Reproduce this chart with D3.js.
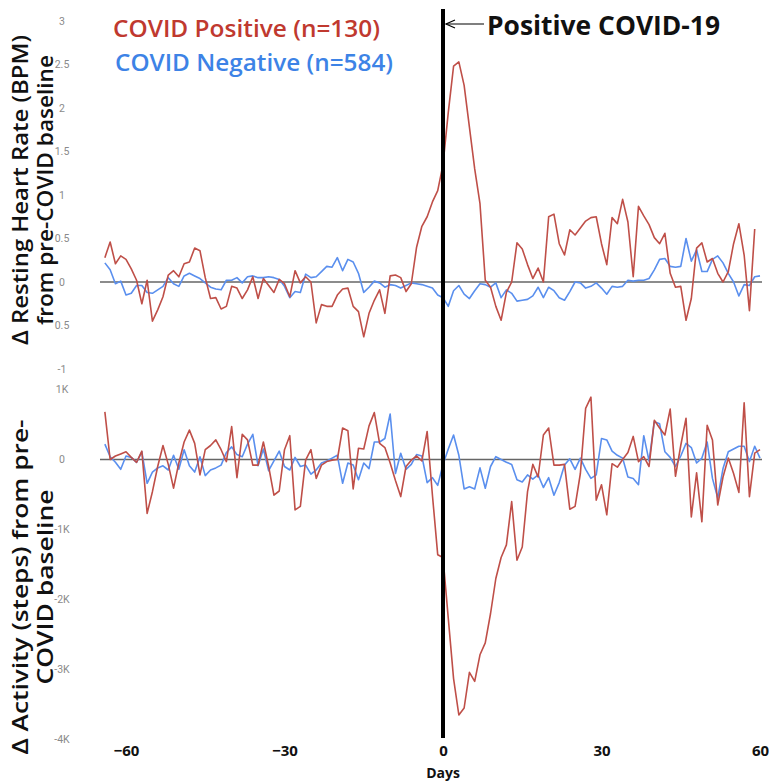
<!DOCTYPE html>
<html><head><meta charset="utf-8">
<script src="https://cdn.jsdelivr.net/npm/d3@7"></script>
<style>body{margin:0;background:#fff;} svg{display:block;}</style>
</head><body>
<svg id="chart" width="769" height="783"></svg>
<script>
// ---- data ----
const days = d3.range(-64, 61);               // day relative to positive test
const xTicks = [-60, -30, 0, 30, 60];
const hrTicks = [3, 2.5, 2, 1.5, 1, 0.5, 0, -0.5, -1];
const stepTicks = [1, 0, -1, -2, -3, -4];      // thousands of steps
const legendLabels = ["COVID Positive (n=130)", "COVID Negative (n=584)"];
const annotationLabel = "Positive COVID-19";
const hrTitle = ["Δ Resting Heart Rate (BPM)", "from pre-COVID baseline"];
const stepsTitle = ["Δ Activity (steps)  from pre-", "COVID baseline"];
const xTitle = "Days";

// Δ resting heart rate (BPM), COVID positive (days -64..59)
const hrPositive = [
  0.28, 0.46, 0.21, 0.30, 0.26, 0.15, 0.02, -0.25, 0.02, -0.45,
  -0.32, -0.17, 0.08, 0.13, 0.06, 0.21, 0.23, 0.39, 0.36, 0.05,
  -0.19, -0.18, -0.31, -0.28, -0.05, -0.07, -0.19, -0.09, 0.06, -0.19,
  0.04, -0.04, -0.12, 0.03, -0.02, -0.17, 0.13, -0.01, 0.06, 0.00,
  -0.47, -0.26, -0.28, -0.28, -0.15, -0.08, -0.07, -0.28, -0.34, -0.63,
  -0.36, -0.21, -0.09, -0.36, 0.07, 0.08, 0.05, -0.11, -0.02, 0.40,
  0.64, 0.75, 0.92, 1.05, 1.35, 1.95, 2.48, 2.53, 2.26, 1.78,
  1.30, 0.90, 0.02, -0.06, -0.28, -0.44, -0.12, 0.00, 0.45, 0.38,
  0.20, 0.04, 0.16, 0.00, 0.75, 0.78, 0.44, 0.31, 0.60, 0.54,
  0.62, 0.70, 0.74, 0.75, 0.44, 0.20, 0.74, 0.67, 0.95, 0.69,
  0.06, 0.87, 0.76, 0.66, 0.51, 0.44, 0.56, 0.10, -0.06, -0.05,
  -0.44, -0.19, 0.39, 0.45, 0.23, 0.27, 0.10, 0.00, 0.12, 0.44,
  0.67, 0.31, -0.33, 0.61
];
// Δ resting heart rate (BPM), COVID negative (days -64..60)
const hrNegative = [
  0.22, 0.14, -0.02, 0.01, -0.15, -0.13, -0.04, -0.04, -0.12, -0.13,
  -0.09, -0.05, 0.05, -0.02, -0.05, 0.07, 0.10, 0.07, 0.04, -0.01,
  -0.06, -0.08, -0.09, 0.02, 0.02, 0.05, -0.01, 0.06, 0.07, 0.05,
  0.05, 0.06, 0.05, 0.03, -0.05, -0.18, -0.11, -0.12, 0.09, 0.05,
  0.06, 0.12, 0.18, 0.17, 0.28, 0.13, 0.26, 0.23, 0.10, -0.12,
  -0.06, 0.01, -0.01, -0.06, -0.03, -0.04, -0.07, -0.04, -0.01, -0.02,
  -0.03, -0.05, -0.07, -0.15, -0.18, -0.28, -0.10, -0.04, -0.14, -0.19,
  -0.10, -0.02, -0.03, -0.06, -0.01, -0.18, -0.09, -0.13, -0.22, -0.21,
  -0.20, -0.16, -0.06, -0.18, -0.06, -0.10, -0.18, -0.21, -0.11, 0.00,
  -0.01, -0.07, -0.05, -0.01, -0.07, -0.14, -0.05, -0.06, -0.05, 0.02,
  0.01, 0.02, 0.02, 0.04, 0.14, 0.26, 0.27, 0.18, 0.17, 0.18,
  0.50, 0.24, 0.37, 0.12, 0.12, 0.26, 0.30, 0.22, 0.10, 0.00,
  -0.16, -0.03, -0.04, 0.06, 0.07
];
// Δ activity (thousand steps), COVID positive (days -64..60)
const stepsPositive = [
  0.68, 0.00, 0.05, 0.08, 0.11, 0.03, -0.04, 0.12, -0.77, -0.46,
  -0.10, 0.20, -0.07, -0.41, -0.05, 0.25, 0.42, 0.23, -0.22, 0.14,
  0.20, 0.28, 0.14, -0.03, 0.47, -0.26, 0.36, 0.28, -0.08, -0.08,
  0.25, -0.10, -0.51, -0.45, 0.14, 0.34, -0.72, -0.67, -0.01, 0.14,
  -0.27, -0.08, -0.03, -0.01, 0.00, 0.45, 0.41, -0.42, 0.16, 0.15,
  0.48, 0.67, 0.23, 0.17, -0.05, -0.30, -0.53, -0.10, -0.01, 0.05,
  -0.02, 0.40, -0.51, -1.36, -1.40, -2.27, -3.13, -3.65, -3.55, -3.04,
  -3.17, -2.79, -2.62, -2.20, -1.70, -1.40, -1.22, -0.60, -1.44, -1.25,
  -0.46, -0.07, -0.25, 0.35, 0.45, -0.08, -0.08, -0.07, -0.71, -0.67,
  -0.20, 0.73, 0.89, -0.58, -0.36, -0.79, -0.06, -0.11, 0.00, 0.10,
  0.33, -0.03, 0.04, -0.10, 0.56, 0.45, 0.35, 0.72, -0.24, 0.20,
  0.59, -0.82, -0.19, -0.89, 0.49, 0.28, -0.65, -0.25, 0.02, -0.20,
  -0.47, 0.81, -0.53, 0.09, 0.14
];
// Δ activity (thousand steps), COVID negative (days -64..60)
const stepsNegative = [
  0.22, 0.04, -0.04, -0.14, 0.05, 0.03, -0.04, 0.11, -0.34, -0.18,
  -0.12, -0.09, -0.15, 0.06, -0.14, 0.14, -0.09, -0.18, 0.04, -0.23,
  -0.15, -0.12, -0.08, 0.10, 0.18, 0.07, 0.04, 0.22, 0.36, -0.09,
  0.15, -0.16, -0.02, 0.12, -0.10, -0.15, 0.03, -0.10, -0.08, -0.21,
  -0.15, -0.05, -0.02, 0.02, 0.06, -0.34, -0.05, -0.08, -0.29, -0.05,
  -0.13, 0.25, 0.25, 0.30, 0.65, -0.20, 0.09, -0.14, -0.07, 0.07,
  0.05, -0.33, -0.26, -0.37, -0.07, 0.15, 0.35, 0.06, -0.42, -0.39,
  -0.42, -0.12, -0.41, -0.10, 0.04, 0.00, -0.04, -0.07, -0.29, -0.32,
  -0.22, -0.28, -0.22, -0.40, -0.26, -0.51, -0.33, -0.08, 0.01, -0.14,
  0.02, -0.14, -0.27, -0.22, 0.30, 0.28, 0.12, 0.06, 0.02, -0.25,
  -0.27, -0.36, 0.34, -0.02, 0.54, 0.51, 0.11, 0.03, -0.10, 0.05,
  0.23, 0.17, -0.05, 0.02, 0.25, -0.27, -0.55, -0.13, 0.11, 0.15,
  0.19, 0.19, -0.03, 0.19, 0.02
];

// ---- styles ----
const RED_LINE = "#bf4f48", BLUE_LINE = "#5a8fee";
const RED_TEXT = "#c0392f", BLUE_TEXT = "#3d83e6";
const FONT = "'Open Sans', 'DejaVu Sans', sans-serif";

const svg = d3.select("#chart");
svg.append("rect").attr("width", 769).attr("height", 783).attr("fill", "#fff");

const x = d3.scaleLinear().domain([0, 60]).range([443, 760]);
const yHr = d3.scaleLinear().domain([-1, 3]).range([369, 21]);
const ySt = d3.scaleLinear().domain([-4, 1]).range([739.5, 389.5]);

// y axes (tick labels only)
function yAxis(scale, ticks, fmt) {
  const g = svg.append("g").attr("transform", "translate(72,0)")
    .call(d3.axisLeft(scale).tickValues(ticks).tickSize(0).tickFormat(fmt));
  g.select(".domain").remove();
  g.selectAll("text").attr("x", -10).attr("text-anchor", "middle")
    .attr("fill", "#8a8a8a").style("font-family", "Roboto, sans-serif").style("font-size", "10.5px");
}
yAxis(yHr, hrTicks, d => d === -0.5 ? "0.5" : String(d));
yAxis(ySt, stepTicks, d => d === 0 ? "0" : d + "K");

// x axis
const gx = svg.append("g").attr("transform", "translate(0,742)")
  .call(d3.axisBottom(x).tickValues(xTicks).tickSize(0).tickPadding(3).tickFormat(d3.format("d")));
gx.select(".domain").remove();
gx.selectAll("text").attr("fill", "#111").style("font-family", FONT)
  .style("font-size", "15px").style("font-weight", "700");
svg.append("text").attr("x", x(0)).attr("y", 778).attr("text-anchor", "middle")
  .style("font-family", FONT).style("font-size", "14px").style("font-weight", "700").attr("fill", "#111")
  .text(xTitle);

// zero lines
[[yHr, 0], [ySt, 0]].forEach(([s, v]) => {
  svg.append("line").attr("x1", 100).attr("x2", 762)
    .attr("y1", s(v)).attr("y2", s(v)).attr("stroke", "#666").attr("stroke-width", 1.4);
});

// series
function drawLine(values, yScale, color) {
  const line = d3.line().x((d, i) => x(days[i])).y(d => yScale(d));
  svg.append("path").datum(values).attr("d", line)
    .attr("fill", "none").attr("stroke", color).attr("stroke-width", 1.6)
    .attr("stroke-linejoin", "round");
}
drawLine(hrNegative, yHr, BLUE_LINE);
drawLine(hrPositive, yHr, RED_LINE);
drawLine(stepsNegative, ySt, BLUE_LINE);
drawLine(stepsPositive, ySt, RED_LINE);

// vertical marker at day 0
svg.append("line").attr("x1", x(0)).attr("x2", x(0)).attr("y1", 9).attr("y2", 738)
  .attr("stroke", "#000").attr("stroke-width", 4);

// arrow + annotation
const ay = 24;
svg.append("line").attr("x1", x(0) + 3).attr("x2", 484).attr("y1", ay).attr("y2", ay)
  .attr("stroke", "#000").attr("stroke-width", 1.2);
svg.append("path").attr("d", `M${x(0) + 12},${ay - 4} L${x(0) + 3},${ay} L${x(0) + 12},${ay + 4}`)
  .attr("fill", "none").attr("stroke", "#000").attr("stroke-width", 1.2);
svg.append("text").attr("x", 487).attr("y", 35)
  .style("font-family", FONT).style("font-size", "26px").style("font-weight", "700").attr("fill", "#111")
  .attr("textLength", 233).attr("lengthAdjust", "spacingAndGlyphs")
  .text(annotationLabel);

// legend
svg.append("text").attr("x", 113).attr("y", 37).attr("fill", RED_TEXT)
  .style("font-family", FONT).style("font-size", "24px").style("font-weight", "600")
  .attr("textLength", 267).attr("lengthAdjust", "spacingAndGlyphs")
  .text(legendLabels[0]);
svg.append("text").attr("x", 115).attr("y", 71).attr("fill", BLUE_TEXT)
  .style("font-family", FONT).style("font-size", "24px").style("font-weight", "600")
  .attr("textLength", 278).attr("lengthAdjust", "spacingAndGlyphs")
  .text(legendLabels[1]);

// y titles
function yTitle(lines, cy, lengths, size) {
  [28, 53].forEach((bx, i) => {
    svg.append("text").attr("transform", `translate(${bx},${cy}) rotate(-90)`)
      .attr("text-anchor", "middle").attr("fill", "#111")
      .style("font-family", FONT).style("font-size", size + "px").style("font-weight", "600")
      .attr("textLength", lengths[i]).attr("lengthAdjust", "spacingAndGlyphs")
      .text(lines[i]);
  });
}
yTitle(hrTitle, 190, [310, 270], 22);
yTitle(stepsTitle, 587, [335, 195], 22);
</script>
</body></html>
